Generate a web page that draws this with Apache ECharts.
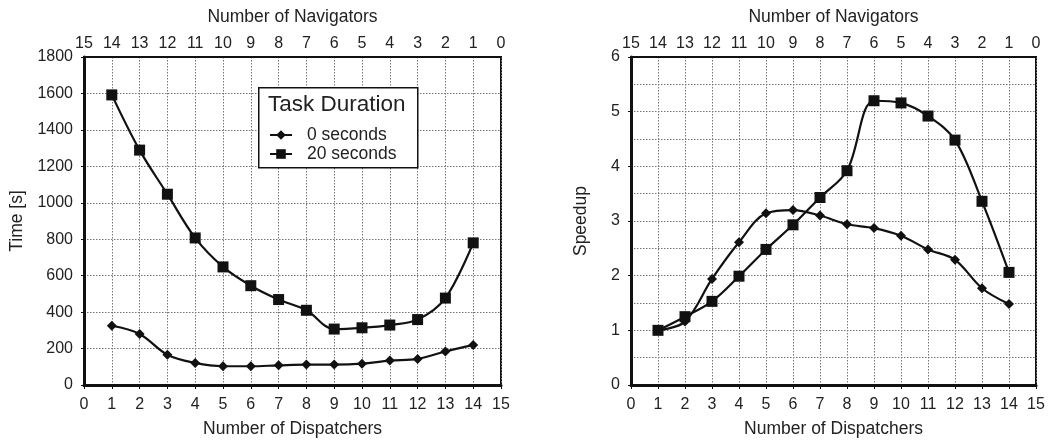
<!DOCTYPE html>
<html>
<head>
<meta charset="utf-8">
<script src="https://cdn.jsdelivr.net/npm/echarts@6/dist/echarts.min.js"></script>
<style>
html,body{margin:0;padding:0;background:#fff;}
#chart{width:1063px;height:443px;}
</style>
</head>
<body>
<div id="chart"></div>
<script>
var dispatchers = [1,2,3,4,5,6,7,8,9,10,11,12,13,14];
var time0  = [325,280,166,121,103,103,108,112,112,117,134,143,184,220];
var time20 = [1592,1289,1047,807,648,545,469,410,307,314,329,359,477,780];
var speed0  = [1.0,1.16,1.94,2.61,3.14,3.2,3.1,2.94,2.87,2.73,2.48,2.29,1.77,1.48];
var speed20 = [1.0,1.25,1.53,1.99,2.48,2.93,3.43,3.92,5.2,5.16,4.92,4.48,3.36,2.06];
var seriesNames = ['0 seconds','20 seconds'];
var legendTitle = 'Task Duration';

function pairs(vals){ return dispatchers.map(function(d,i){ return [d, vals[i]]; }); }

var FONT = 'Liberation Sans, Arial, sans-serif';
var TXT = '#222';
var gridLine = {show:true, lineStyle:{color:'#777', type:[1.5,1.5], width:1}};
var plain = function(v){ return String(v); };

function xBottom(gi){
  return {gridIndex:gi, type:'value', position:'bottom', min:0, max:15, interval:1,
    name:'Number of Dispatchers', nameLocation:'middle', nameGap:35,
    nameTextStyle:{fontFamily:FONT, fontSize:17.5, color:TXT},
    axisLine:{show:true, onZero:false, lineStyle:{color:'#111', width:3}},
    axisTick:{show:true, inside:false, length:4, lineStyle:{color:'#111', width:1}},
    axisLabel:{fontFamily:FONT, fontSize:16, color:TXT, margin:12, formatter:plain},
    splitLine:gridLine};
}
function xTop(gi){
  return {gridIndex:gi, type:'value', position:'top', min:0, max:15, interval:1, inverse:true,
    name:'Number of Navigators', nameLocation:'middle', nameGap:31,
    nameTextStyle:{fontFamily:FONT, fontSize:17.5, color:TXT},
    axisLine:{show:true, onZero:false, lineStyle:{color:'#111', width:2}},
    axisTick:{show:false},
    axisLabel:{fontFamily:FONT, fontSize:16, color:TXT, margin:5, formatter:plain},
    splitLine:{show:false}};
}
function seriesFor(gi, name, vals, sym, size){
  return {type:'line', name:name, xAxisIndex:gi*2, yAxisIndex:gi*2, data:pairs(vals),
    smooth:0.35, symbol:sym, symbolSize:size, showSymbol:true,
    lineStyle:{color:'#111', width:2.2}, itemStyle:{color:'#111'}, z:5};
}

var option = {
  animation:false,
  backgroundColor:'#fff',
  textStyle:{fontFamily:FONT},
  grid:[
    {left:84, top:57, width:417, height:332, show:true, borderColor:'#111', borderWidth:2, backgroundColor:'transparent'},
    {left:631, top:57, width:405, height:332, show:true, borderColor:'#111', borderWidth:2, backgroundColor:'transparent'}
  ],
  xAxis:[xBottom(0), xTop(0), xBottom(1), xTop(1)],
  yAxis:[
    {gridIndex:0, type:'value', min:0, max:1800, interval:200,
     name:'Time [s]', nameLocation:'middle', nameGap:58,
     nameTextStyle:{fontFamily:FONT, fontSize:17.5, color:TXT},
     axisLine:{show:true, lineStyle:{color:'#111', width:3}},
     axisTick:{show:true, length:3, lineStyle:{color:'#111'}},
     axisLabel:{fontFamily:FONT, fontSize:16, color:TXT, margin:11, formatter:plain},
     splitLine:gridLine},
    {gridIndex:0, type:'value', position:'right', min:0, max:1800, interval:200,
     axisLine:{show:false}, axisTick:{show:false}, axisLabel:{show:false}, splitLine:{show:false}},
    {gridIndex:1, type:'value', min:0, max:6, interval:1,
     name:'Speedup', nameLocation:'middle', nameGap:41,
     nameTextStyle:{fontFamily:FONT, fontSize:17.5, color:TXT},
     axisLine:{show:true, lineStyle:{color:'#111', width:3}},
     axisTick:{show:true, length:3, lineStyle:{color:'#111'}},
     axisLabel:{fontFamily:FONT, fontSize:16, color:TXT, margin:11, formatter:plain},
     splitLine:gridLine,
     minorTick:{show:false, splitNumber:2},
     minorSplitLine:{show:true, lineStyle:{color:'#777', type:[1.5,1.5], width:1}}},
    {gridIndex:1, type:'value', position:'right', min:0, max:6, interval:1,
     axisLine:{show:false}, axisTick:{show:false}, axisLabel:{show:false}, splitLine:{show:false}}
  ],
  legend:{
    data:seriesNames, orient:'vertical', left:264, top:121, itemGap:1,
    itemWidth:22, itemHeight:12,
    textStyle:{fontFamily:FONT, fontSize:17.5, color:TXT, padding:[0,0,0,10]},
    selectedMode:false, z:20
  },
  graphic:[
    {type:'rect', left:258, top:87, z:15, shape:{width:159, height:80},
     style:{fill:'#fff', stroke:'#111', lineWidth:1.5}},
    {type:'text', left:268, top:93, z:16,
     style:{text:legendTitle, font:'22.5px Liberation Sans, Arial, sans-serif', fill:TXT}}
  ],
  series:[
    seriesFor(0, seriesNames[0], time0, 'diamond', 10),
    seriesFor(0, seriesNames[1], time20, 'rect', 11),
    seriesFor(1, seriesNames[0], speed0, 'diamond', 10),
    seriesFor(1, seriesNames[1], speed20, 'rect', 11)
  ]
};
var chart = echarts.init(document.getElementById('chart'), null, {renderer:'canvas'});
chart.setOption(option);
</script>
</body>
</html>
